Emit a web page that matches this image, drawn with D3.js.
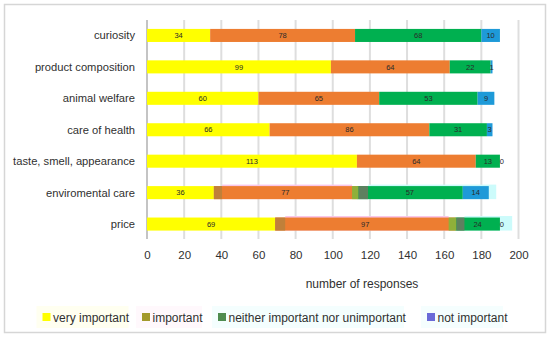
<!DOCTYPE html>
<html><head><meta charset="utf-8">
<script src="https://cdn.jsdelivr.net/npm/d3@7"></script>
<style>body{margin:0;background:#fff}svg{display:block}text{font-family:"Liberation Sans",Arial,sans-serif}</style>
</head><body><svg id="c" width="550" height="337"></svg>
<script>
const categories = ["curiosity","product composition","animal welfare","care of health","taste, smell, appearance","enviromental care","price"];
const veryImportant = [34,99,60,66,113,36,69];
const important = [78,64,65,86,64,77,97];
const neither = [68,22,53,31,13,57,24];
const notImportant = [10,1,9,3,0,14,0];
const seriesNames = ["very important","important","neither important nor unimportant","not important"];
const xTicks = [0,20,40,60,80,100,120,140,160,180,200];
// overlay artefacts visible on the last two bars (stacked from zero)
const ovGap   = [0,0,0,0,0,36,69];
const ovBrown = [0,0,0,0,0,4.4,5.4];
const ovPink  = [0,0,0,0,0,70,88];
const ovOlive = [0,0,0,0,0,3.5,4.2];
const ovGray  = [0,0,0,0,0,5.1,4.3];
const ovCyan  = [0,0,0,0,0,69,25.7];

const barColors = ["#FFFF00","#ED7D31","#00B050","#1E9AD8"];
const legendColors = ["#FFFF00","#A39A2C","#4F8C4F","#6A6AD8"];

const svg = d3.select("#c");
svg.append("rect").attr("x",4.5).attr("y",4.5).attr("width",541).attr("height",328)
  .attr("fill","#fff").attr("stroke","#d6d6d6").attr("stroke-width",1.5);

const x = d3.scaleLinear().domain([0,200]).range([147,518.5]);
const y = d3.scaleBand().domain(categories).range([19.8,239.7]).paddingInner(0.585).paddingOuter(0.29);

// gridlines
svg.append("g").selectAll("line").data(xTicks).join("line")
  .attr("x1",d=>x(d)).attr("x2",d=>x(d)).attr("y1",20).attr("y2",239)
  .attr("stroke",d=>d===0?"#c4c4c4":"#dedede").attr("stroke-width",2);

// overlay behind
const ovSeries = [ovGap,ovBrown,ovPink,ovOlive,ovGray,ovCyan];
const ovColors = [null,"#C0803A","#F9C6EA","#8FB03A","#5E8060","#CCFBFB"];
const ovFront = [false,true,false,true,true,false];
function ovStack(){
  return categories.map((c,i)=>{let acc=0;return ovSeries.map((s,k)=>{const seg={c,k,x0:acc,x1:acc+s[i]};acc+=s[i];return seg;});});
}
const ovSegs = ovStack().flat().filter(s=>s.x1>s.x0 && ovColors[s.k]);
const bh = y.bandwidth();
svg.append("g").selectAll("rect").data(ovSegs.filter(s=>!ovFront[s.k])).join("rect")
  .attr("x",d=>x(d.x0)).attr("width",d=>x(d.x1)-x(d.x0))
  .attr("y",d=>y(d.c)-1.5).attr("height",bh+1.5).attr("fill",d=>ovColors[d.k]);

// main stacked bars
const rows = categories.map((c,i)=>({cat:c,v:[veryImportant[i],important[i],neither[i],notImportant[i]]}));
const segs = [];
rows.forEach(r=>{let acc=0;r.v.forEach((v,k)=>{segs.push({c:r.cat,k,v,x0:acc,x1:acc+v});acc+=v;});});
svg.append("g").selectAll("rect").data(segs.filter(s=>s.v>0)).join("rect")
  .attr("x",d=>x(d.x0)).attr("width",d=>x(d.x1)-x(d.x0))
  .attr("y",d=>y(d.c)).attr("height",bh).attr("fill",d=>barColors[d.k]);

svg.append("g").selectAll("rect").data(ovSegs.filter(s=>ovFront[s.k])).join("rect")
  .attr("x",d=>x(d.x0)).attr("width",d=>x(d.x1)-x(d.x0))
  .attr("y",d=>y(d.c)).attr("height",bh).attr("fill",d=>ovColors[d.k]);

// value labels
svg.append("g").selectAll("text").data(segs).join("text")
  .attr("x",d=>x((d.x0+d.x1)/2)+(d.v===0?2:0)).attr("y",d=>y(d.c)+bh/2+2.7)
  .attr("text-anchor","middle").attr("font-size",7.5).attr("fill","#2a2a2a").text(d=>d.v);

// category labels
svg.append("g").selectAll("text").data(categories).join("text")
  .attr("x",135).attr("y",d=>y(d)+bh/2+4).attr("text-anchor","end")
  .attr("font-size",11.2).attr("fill","#303030").text(d=>d);

// x axis tick labels
const xAxis = d3.axisBottom(x).tickValues(xTicks).tickSize(0).tickPadding(0);
const ax = svg.append("g").attr("transform","translate(0,251)").call(xAxis);
ax.select(".domain").remove();
ax.selectAll("text").attr("font-size",11.5).attr("fill","#303030").attr("font-family","Liberation Sans, Arial, sans-serif").attr("dy","0.71em");

svg.append("text").attr("x",362).attr("y",288).attr("text-anchor","middle")
  .attr("font-size",12).attr("fill","#303030").text("number of responses");

// legend
const legX = [42.5,142,218,427];
const legBg = ["#FFFFF0","#FFF8FC","#F4FEFE","#F5FEFE"];
const legBgW = [92,66,192,82];
const lg = svg.append("g");
seriesNames.forEach((n,i)=>{
  lg.append("rect").attr("x",legX[i]-6).attr("y",306).attr("width",legBgW[i]).attr("height",22).attr("fill",legBg[i]);
});
seriesNames.forEach((n,i)=>{
  lg.append("rect").attr("x",legX[i]).attr("y",313).attr("width",8).attr("height",8).attr("fill",legendColors[i]);
  lg.append("text").attr("x",legX[i]+10.5).attr("y",321.5).attr("font-size",12).attr("fill","#303030").text(n);
});
</script></body></html>
